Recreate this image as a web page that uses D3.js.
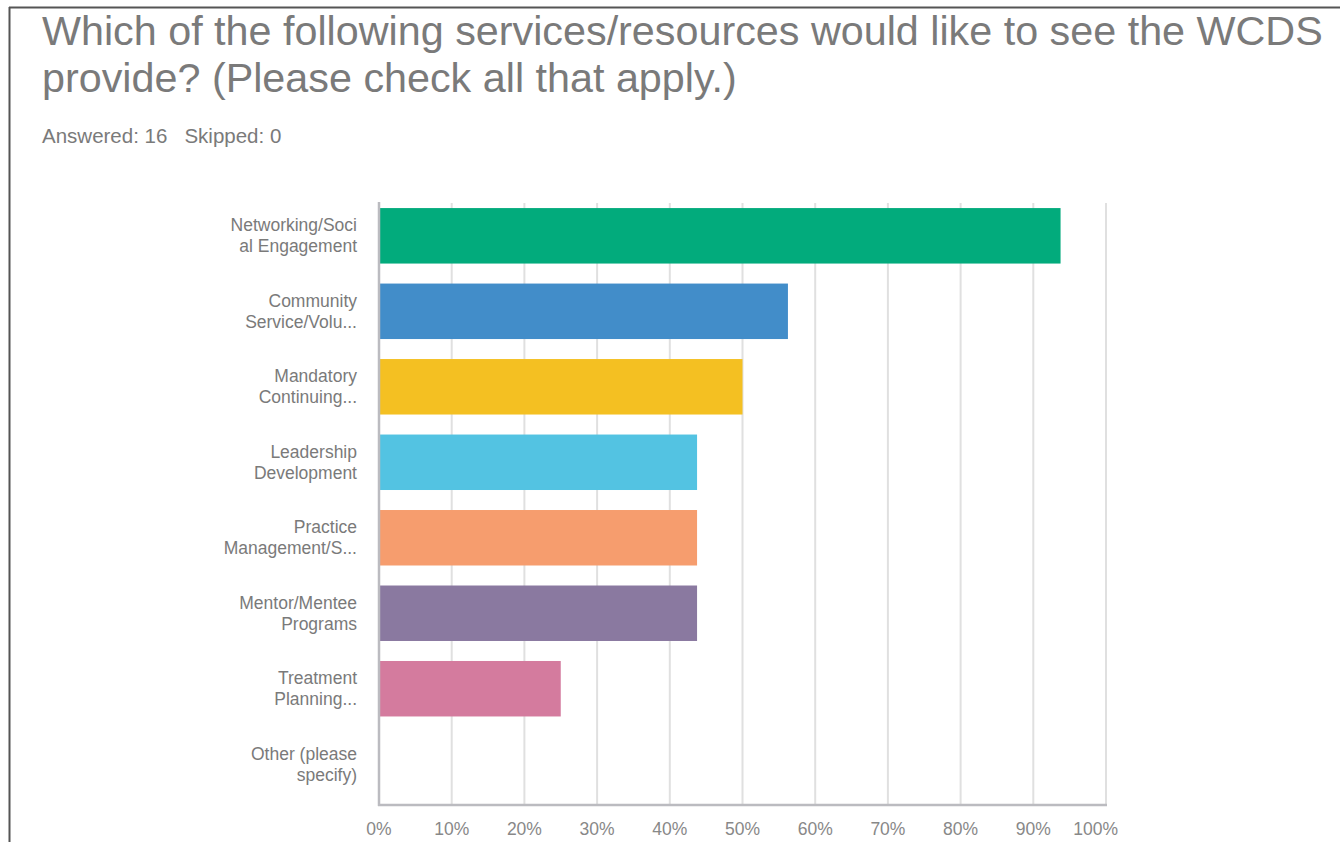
<!DOCTYPE html>
<html>
<head>
<meta charset="utf-8">
<script src="https://cdn.jsdelivr.net/npm/d3@7"></script>
<style>
  body { margin: 0; background: #fff; }
  svg { display: block; font-family: "Liberation Sans", Arial, sans-serif; }
</style>
</head>
<body>
<svg id="chart-svg" width="1340" height="842"></svg>
<script>
// Chart data
const titleLines = ["Which of the following services/resources would like to see the WCDS",
                    "provide? (Please check all that apply.)"];
const summary = "Answered: 16   Skipped: 0";
const categories = [
    ["Networking/Soci", "al Engagement"],
    ["Community", "Service/Volu..."],
    ["Mandatory", "Continuing..."],
    ["Leadership", "Development"],
    ["Practice", "Management/S..."],
    ["Mentor/Mentee", "Programs"],
    ["Treatment", "Planning..."],
    ["Other (please", "specify)"]
];
const percentages = [93.75, 56.25, 50, 43.75, 43.75, 43.75, 25, 0];
const barColors = ["#02ab7c", "#428dc9", "#f4c022", "#53c3e2", "#f69d6e", "#8a79a0", "#d47b9e", "#c9c9c9"];
const tickValues = [0, 10, 20, 30, 40, 50, 60, 70, 80, 90, 100];

const svg = d3.select('#chart-svg');

// Frame lines (top and left)
svg.append("line").attr("x1", 9).attr("x2", 1340).attr("y1", 7.5).attr("y2", 7.5)
    .attr("stroke", "#555").attr("stroke-width", 2);
svg.append("line").attr("x1", 9.5).attr("x2", 9.5).attr("y1", 7).attr("y2", 842)
    .attr("stroke", "#555").attr("stroke-width", 2);

// Title
svg.append("g").selectAll("text")
    .data(titleLines)
    .join("text")
    .attr("x", 42)
    .attr("y", (d, i) => 45 + i * 47)
    .attr("fill", "#7a7a7a")
    .attr("font-size", 41.3)
    .text(d => d);

svg.append("text")
    .attr("x", 42).attr("y", 143)
    .attr("fill", "#7a7a7a")
    .attr("font-size", 20.5)
    .attr("xml:space", "preserve")
    .style("white-space", "pre")
    .text(summary);

// Scales
const margin = {left: 379, right: 1106, top: 203, bottom: 805};

const xScale = d3.scaleLinear()
    .domain([0, 100])
    .range([margin.left, margin.right]);

const yScale = d3.scaleBand()
    .domain(d3.range(categories.length))
    .range([margin.top, margin.bottom])
    .paddingInner(0.265)
    .paddingOuter(0.12)
    .align(0.28);

// Gridlines
svg.append("g")
    .selectAll("line")
    .data(tickValues.slice(1))
    .join("line")
    .attr("x1", d => xScale(d)).attr("x2", d => xScale(d))
    .attr("y1", margin.top).attr("y2", margin.bottom)
    .attr("stroke", "#e0e0e0")
    .attr("stroke-width", 2);

// Bars
svg.append("g")
    .selectAll("rect")
    .data(percentages)
    .join("rect")
    .attr("x", xScale(0))
    .attr("y", (d, i) => yScale(i))
    .attr("width", d => xScale(d) - xScale(0))
    .attr("height", yScale.bandwidth())
    .attr("fill", (d, i) => barColors[i]);

// Axis lines
svg.append("line")
    .attr("x1", xScale(0)).attr("x2", xScale(0))
    .attr("y1", margin.top - 1).attr("y2", margin.bottom + 1)
    .attr("stroke", "#bbbbc0").attr("stroke-width", 2.5);
svg.append("line")
    .attr("x1", xScale(0) - 1).attr("x2", xScale(100) + 1)
    .attr("y1", margin.bottom).attr("y2", margin.bottom)
    .attr("stroke", "#bbbbc0").attr("stroke-width", 2.5);

// X tick labels (last one is pulled in to fit, as in the original)
const lastTick = tickValues[tickValues.length - 1];
svg.append("g")
    .selectAll("text")
    .data(tickValues)
    .join("text")
    .attr("x", d => d === lastTick ? xScale(d) + 12 : xScale(d))
    .attr("y", 835)
    .attr("text-anchor", d => d === lastTick ? "end" : "middle")
    .attr("fill", "#888")
    .attr("font-size", 17.5)
    .text(d => d + "%");

// Category labels
const labels = svg.append("g")
    .selectAll("text")
    .data(categories)
    .join("text")
    .attr("text-anchor", "end")
    .attr("fill", "#7a7a7a")
    .attr("font-size", 17.5);

labels.selectAll("tspan")
    .data((d, i) => d.map((line, j) => ({line, j, i})))
    .join("tspan")
    .attr("x", 357)
    .attr("y", d => yScale(d.i) + yScale.bandwidth() / 2 - 10.5 + d.j * 21 + 6)
    .text(d => d.line);
</script>
</body>
</html>
